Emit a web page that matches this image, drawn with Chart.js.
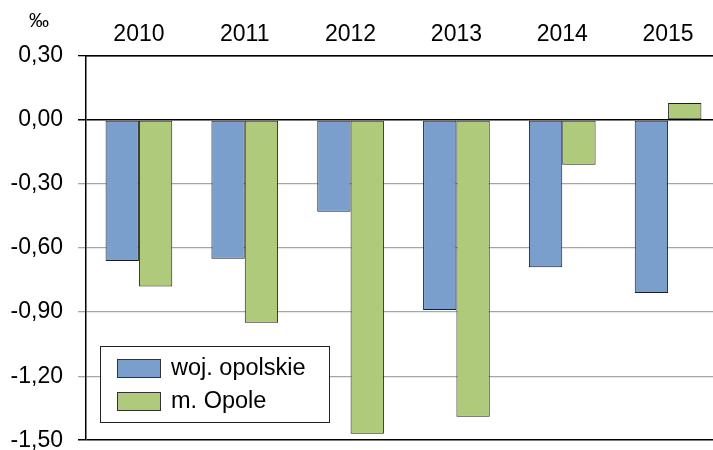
<!DOCTYPE html>
<html>
<head>
<meta charset="utf-8">
<script src="https://cdn.jsdelivr.net/npm/chart.js@4"></script>
<style>
  html, body { margin: 0; padding: 0; background: #fff; overflow: hidden; }
  #wrap { width: 721px; height: 469px; }
</style>
</head>
<body>
<div id="wrap"><canvas id="aChart"></canvas></div>
<script>
let years = ["2010", "2011", "2012", "2013", "2014", "2015"]
let wojOpolskie = [-0.66, -0.65, -0.43, -0.89, -0.69, -0.81]
let mOpole = [-0.78, -0.95, -1.47, -1.39, -0.21, 0.08]
let seriesNames = ["woj. opolskie", "m. Opole"]
let unitLabel = "‰"

let font = "'Liberation Sans', Arial, sans-serif"
Chart.defaults.font.family = font
Chart.defaults.color = "#000"

// legend box sits inside the plot, like the original
let boxLegend = {
  id: "boxLegend",
  afterDraw(chart) {
    let c = chart.ctx
    c.save()
    c.fillStyle = "#fff"
    c.fillRect(100, 346, 229, 76)
    c.strokeStyle = "#222"
    c.lineWidth = 1
    c.strokeRect(100.5, 346.5, 229, 76)
    chart.data.datasets.forEach((ds, i) => {
      let y = 359 + i * 33
      c.fillStyle = ds.backgroundColor
      c.fillRect(117, y, 44, 19)
      c.strokeStyle = "#333"
      c.strokeRect(117.5, y + 0.5, 43, 18)
      c.fillStyle = "#000"
      c.font = "23.5px " + font
      c.textBaseline = "middle"
      c.fillText(ds.label, 171, y + 10)
    })
    c.font = "20px " + font
    c.textAlign = "center"
    c.textBaseline = "middle"
    c.fillText(unitLabel, 39, 21)
    c.restore()
  }
}

let aChart = new Chart(document.getElementById("aChart"), {
  type: "bar",
  data: {
    labels: years,
    datasets: [
      {
        label: seriesNames[0],
        data: wojOpolskie,
        backgroundColor: "#7b9fcc",
        borderColor: "#1e1e1e",
        borderWidth: 1,
        borderSkipped: false,
      },
      {
        label: seriesNames[1],
        data: mOpole,
        backgroundColor: "#b0ca7c",
        borderColor: "#1e1e1e",
        borderWidth: 1,
        borderSkipped: false,
      },
    ],
  },
  options: {
    responsive: true,
    maintainAspectRatio: false,
    animation: false,
    layout: { padding: { left: 0, right: 0, top: 0, bottom: 0 } },
    plugins: {
      legend: { display: false },
      tooltip: { enabled: false },
    },
    datasets: {
      bar: { categoryPercentage: 0.63, barPercentage: 1.0 },
    },
    scales: {
      x: {
        position: "top",
        grid: { display: false, drawTicks: false },
        border: { display: true, color: "#000", width: 1.5 },
        ticks: { font: { size: 23 }, color: "#000", padding: 8 },
        afterFit(scale) { scale.height = 56 },
      },
      y: {
        min: -1.5,
        max: 0.3,
        border: { display: true, color: "#000", width: 1.5 },
        grid: {
          tickLength: 8,
          lineWidth: (ctx) => {
            let v = ctx.tick ? ctx.tick.value : 1
            return (Math.abs(v) < 1e-6 || Math.abs(v + 1.5) < 1e-6) ? 1.5 : 1.3
          },
          color: (ctx) => {
            let v = ctx.tick ? ctx.tick.value : 1
            return (Math.abs(v) < 1e-6 || Math.abs(v + 1.5) < 1e-6 || Math.abs(v - 0.3) < 1e-6) ? "#000" : "#a6a6a6"
          },
        },
        ticks: {
          stepSize: 0.3,
          padding: 15,
          font: { size: 23 },
          color: "#000",
          callback: (v) => Number(v).toFixed(2).replace(".", ","),
        },
        afterFit(scale) { scale.width = 86 },
      },
    },
  },
  plugins: [boxLegend],
});
</script>
</body>
</html>
